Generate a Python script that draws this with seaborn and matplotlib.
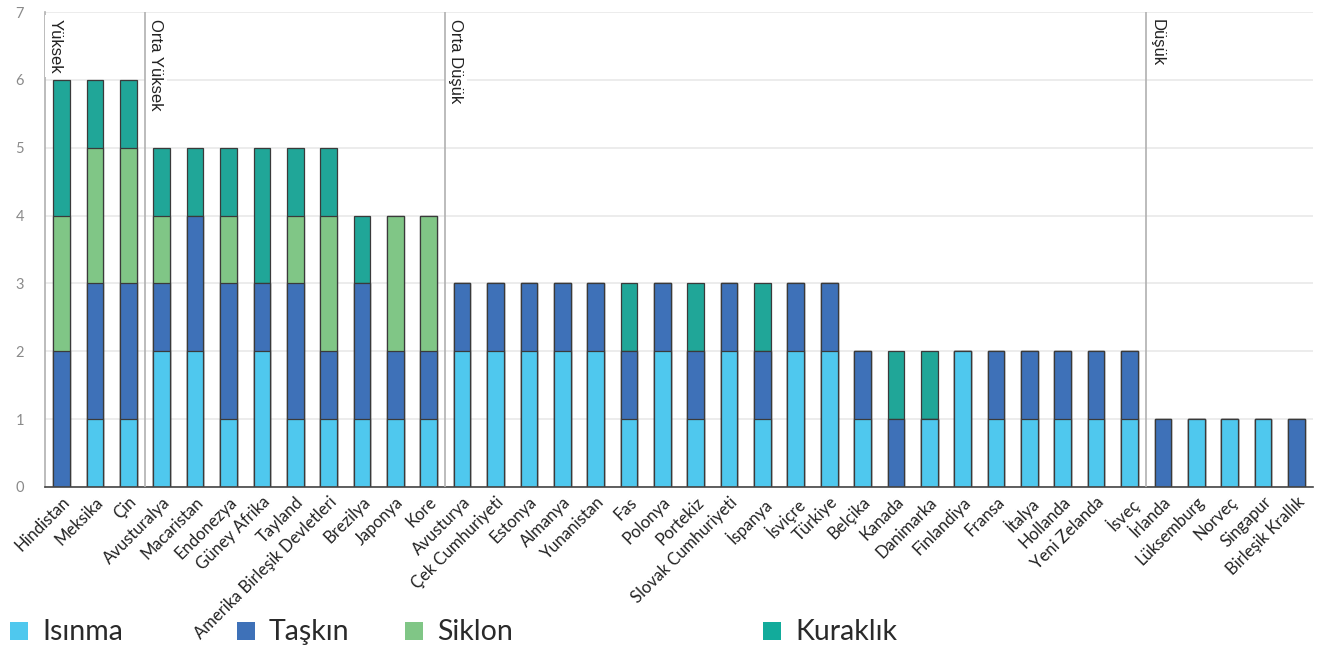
import matplotlib
matplotlib.use("Agg")
import matplotlib.pyplot as plt
from matplotlib.patches import Rectangle
import numpy as np
import pandas as pd
import seaborn as sns

countries = [
    "Hindistan", "Meksika", "Çin", "Avusturalya", "Macaristan", "Endonezya",
    "Güney Afrika", "Tayland", "Amerika Birleşik Devletleri", "Brezilya",
    "Japonya", "Kore", "Avusturya", "Çek Cumhuriyeti", "Estonya", "Almanya",
    "Yunanistan", "Fas", "Polonya", "Portekiz", "Slovak Cumhuriyeti",
    "İspanya", "İsviçre", "Türkiye", "Belçika", "Kanada", "Danimarka",
    "Finlandiya", "Fransa", "İtalya", "Hollanda", "Yeni Zelanda", "İsveç",
    "İrlanda", "Lüksemburg", "Norveç", "Singapur", "Birleşik Krallık",
]
isinma   = [0, 1, 1, 2, 2, 1, 2, 1, 1, 1, 1, 1, 2, 2, 2, 2, 2, 1, 2, 1, 2, 1, 2, 2, 1, 0, 1, 2, 1, 1, 1, 1, 1, 0, 1, 1, 1, 0]
taskin   = [2, 2, 2, 1, 2, 2, 1, 2, 1, 2, 1, 1, 1, 1, 1, 1, 1, 1, 1, 1, 1, 1, 1, 1, 1, 1, 0, 0, 1, 1, 1, 1, 1, 1, 0, 0, 0, 1]
siklon   = [2, 2, 2, 1, 0, 1, 0, 1, 2, 0, 2, 2, 0, 0, 0, 0, 0, 0, 0, 0, 0, 0, 0, 0, 0, 0, 0, 0, 0, 0, 0, 0, 0, 0, 0, 0, 0, 0]
kuraklik = [2, 1, 1, 1, 1, 1, 2, 1, 1, 1, 0, 0, 0, 0, 0, 0, 0, 1, 0, 1, 0, 1, 0, 0, 0, 1, 1, 0, 0, 0, 0, 0, 0, 0, 0, 0, 0, 0]

series_names = ["Isınma", "Taşkın", "Siklon", "Kuraklık"]
series_colors = ["#4FC8EE", "#3E71B8", "#80C686", "#20A698"]
legend_colors = ["#4FC8EE", "#3E71B8", "#80C686", "#12AB9B"]

group_names = ["Yüksek", "Orta Yüksek", "Orta Düşük", "Düşük"]
group_starts = [0, 3, 12, 33]
y_ticks = [0, 1, 2, 3, 4, 5, 6, 7]

sns.set_theme(style="white")
plt.rcParams["font.family"] = ["Lato", "DejaVu Sans"]

W, H = 1318, 653
fig = plt.figure(figsize=(W / 100, H / 100), dpi=100)
ax = fig.add_axes([45 / W, 1 - 487 / H, (1313 - 45) / W, (487 - 12) / H])

df = pd.DataFrame({"Ülke": countries, "Isınma": isinma, "Taşkın": taskin,
                   "Siklon": siklon, "Kuraklık": kuraklik})
stacked = df[series_names].cumsum(axis=1)

# draw cumulative totals from the top layer down so each segment shows
for name, color in reversed(list(zip(series_names, series_colors))):
    sns.barplot(x=df["Ülke"], y=stacked[name], order=countries, color=color,
                saturation=1, width=0.5, errorbar=None, edgecolor="#3a3a3a",
                linewidth=0.9, ax=ax)

ax.set_xlim(-0.5, len(countries) - 0.5)
ax.set_ylim(0, 7)
ax.set_yticks(y_ticks)
ax.set_yticklabels([str(v) for v in y_ticks], color="#8a8a8a", fontsize=10.5)
ax.tick_params(axis="y", length=0, pad=15)
ax.yaxis.grid(True, color="#e9e9e9", linewidth=1.2)
ax.set_axisbelow(True)

ax.set_xticks(range(len(countries)))
ax.set_xticklabels(countries, rotation=45, ha="right", rotation_mode="anchor",
                   fontsize=12, color="#222222")
ax.tick_params(axis="x", which="major", length=0, pad=5)
ax.set_xticks(np.arange(-0.5, len(countries), 1.0), minor=True)
ax.tick_params(axis="x", which="minor", length=8, width=1, color="#444444",
               direction="out")
ax.set_xlabel("")
ax.set_ylabel("")

for side in ("top", "right"):
    ax.spines[side].set_visible(False)
ax.spines["bottom"].set_color("#444444")
ax.spines["bottom"].set_linewidth(1.2)
ax.spines["left"].set_color("#b0b0b0")
ax.spines["left"].set_linewidth(1.2)

for name, start in zip(group_names, group_starts):
    xpos = start - 0.5
    if start > 0:
        ax.axvline(xpos, color="#b0b0b0", linewidth=1.2, zorder=6)
    ax.text(xpos + 0.09, 6.9, name, rotation=-90, ha="left", va="top",
            fontsize=12, family=["Liberation Sans", "DejaVu Sans"],
            color="#222222", zorder=5,
            bbox=dict(facecolor="white", edgecolor="none", pad=2.5))

# legend row along the bottom
legend_x = [10, 237, 405, 763]
for name, color, lx in zip(series_names, legend_colors, legend_x):
    fig.add_artist(Rectangle((lx / W, 1 - 640 / H), 18 / W, 18 / H,
                             transform=fig.transFigure, facecolor=color,
                             edgecolor="none"))
    fig.text((lx + 32) / W, 1 - 632 / H, name, fontsize=20.5, va="center",
             ha="left", color="#2a2a2a")

fig.savefig("out.png", dpi=100, facecolor="white")
